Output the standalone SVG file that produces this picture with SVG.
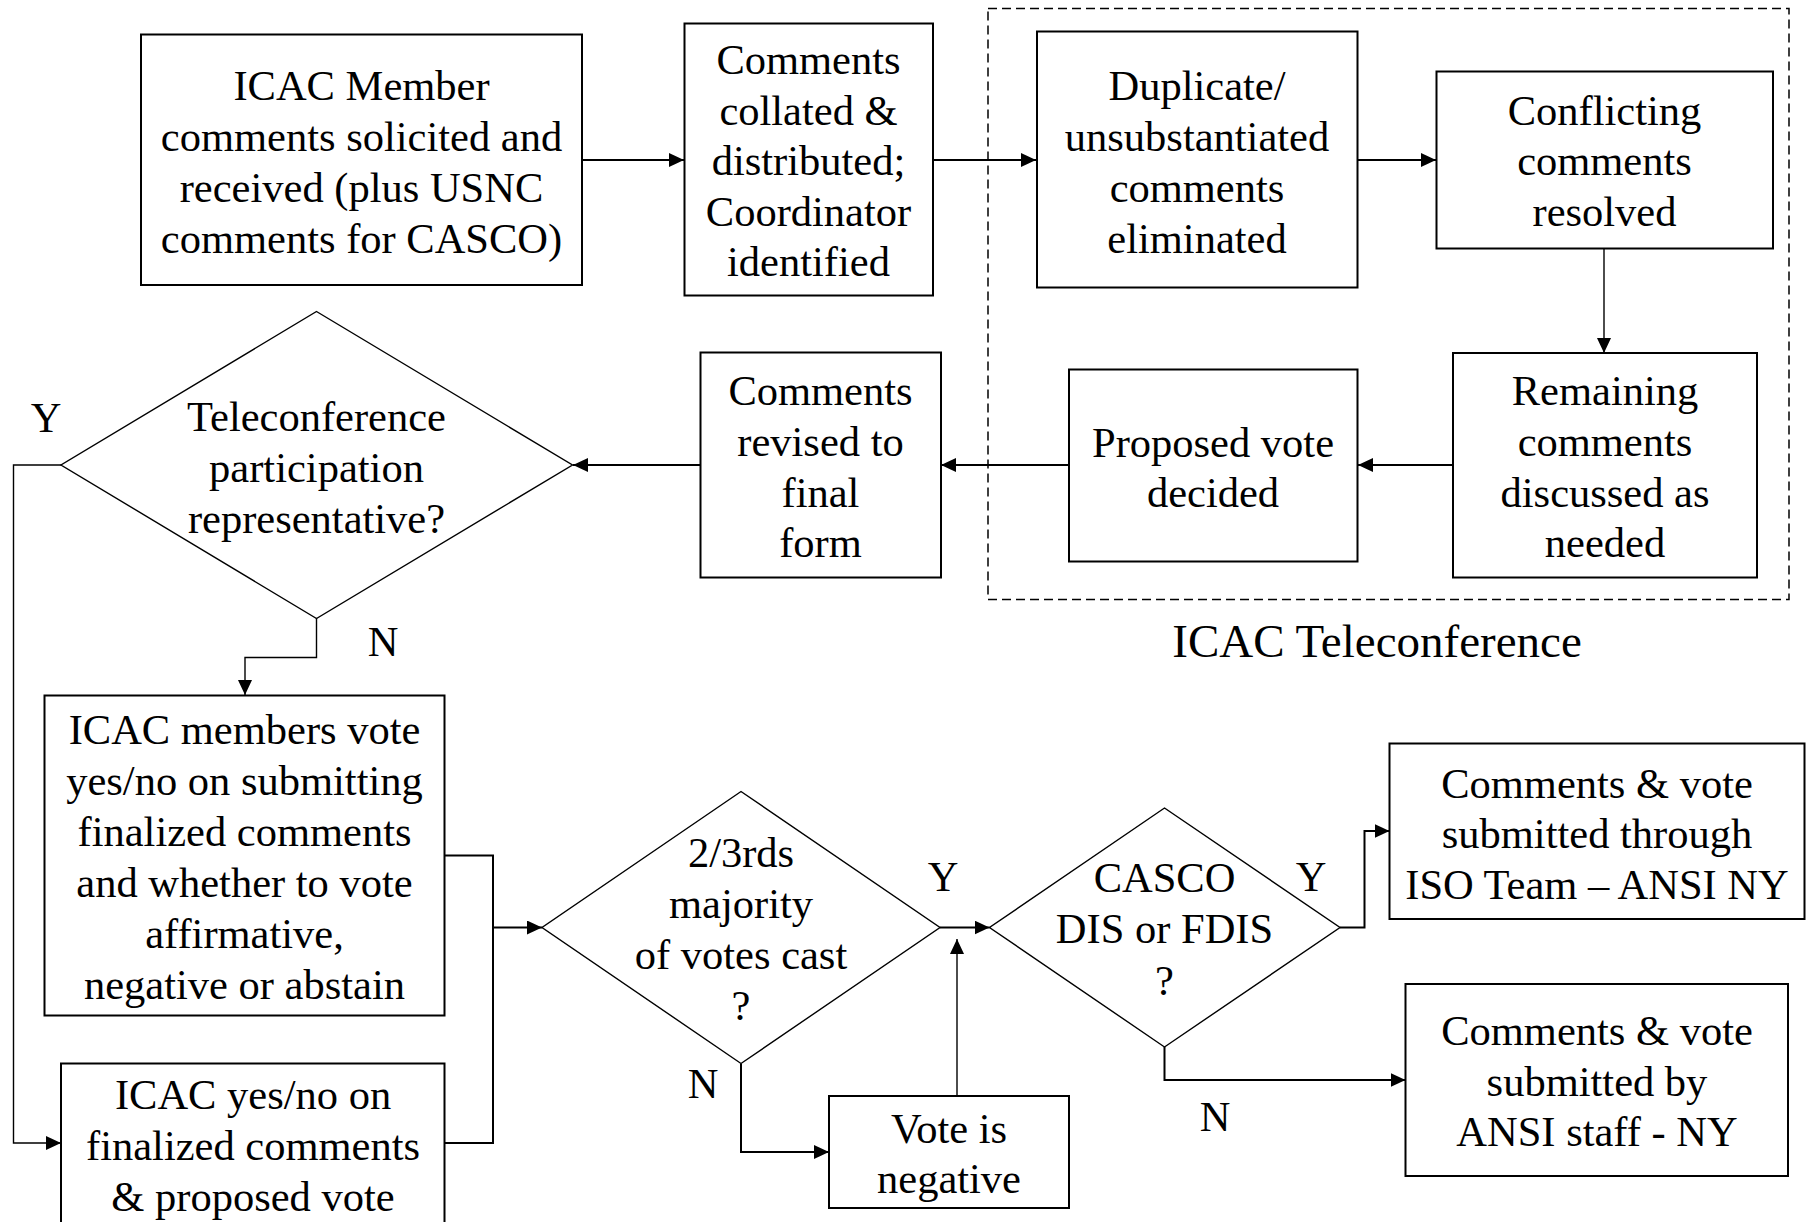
<svg xmlns="http://www.w3.org/2000/svg" width="1808" height="1222" viewBox="0 0 1808 1222">
<style>
.box{fill:#fff;stroke:#000;stroke-width:2}
.dia{fill:#fff;stroke:#000;stroke-width:1.4}
.t{font-family:"Liberation Serif","Times New Roman",serif;font-size:42.5px;fill:#000;text-anchor:middle}
.big{font-size:47px}
.c{fill:none;stroke:#000;stroke-width:2}
.ct{fill:none;stroke:#000;stroke-width:1.4}
.grp{fill:none;stroke:#000;stroke-width:1.5;stroke-dasharray:9 5}
</style>
<defs>
<marker id="ah" markerUnits="userSpaceOnUse" markerWidth="16" markerHeight="14" refX="15" refY="7" orient="auto">
<path d="M0,0 L15,7 L0,14 z" fill="#000"/>
</marker>
</defs>
<rect width="1808" height="1222" fill="#fff"/>

<g id="teleconference-group">
<rect class="grp" x="988" y="8.5" width="801" height="591"/>
<text class="t big" x="1377" y="657">ICAC Teleconference</text>
</g>

<g id="connectors">
<path class="c" d="M582,160 H684" marker-end="url(#ah)"/>
<path class="c" d="M933,160 H1036" marker-end="url(#ah)"/>
<path class="c" d="M1357,160 H1436" marker-end="url(#ah)"/>
<path class="ct" d="M1604,248 V353" marker-end="url(#ah)"/>
<path class="c" d="M1453,465 H1358" marker-end="url(#ah)"/>
<path class="c" d="M1069,465 H941" marker-end="url(#ah)"/>
<path class="c" d="M700,465 H573" marker-end="url(#ah)"/>
<path class="ct" d="M61,465 H13.5 V1143 H61" marker-end="url(#ah)"/>
<path class="ct" d="M316.5,618 V657.5 H245 V695" marker-end="url(#ah)"/>
<path class="c" d="M444.5,855.5 H493 V1143 H444.5"/>
<path class="c" d="M493,927.5 H542" marker-end="url(#ah)"/>
<path class="c" d="M940,927.5 H989.5" marker-end="url(#ah)"/>
<path class="c" d="M741,1063.5 V1152 H829" marker-end="url(#ah)"/>
<path class="ct" d="M957,1096 V939" marker-end="url(#ah)"/>
<path class="c" d="M1340,927.5 H1364.5 V831 H1389.5" marker-end="url(#ah)"/>
<path class="c" d="M1164.5,1047 V1080 H1405.5" marker-end="url(#ah)"/>
</g>

<g id="labels">
<text class="t" x="46" y="432">Y</text>
<text class="t" x="383" y="656">N</text>
<text class="t" x="943" y="891">Y</text>
<text class="t" x="1311" y="891">Y</text>
<text class="t" x="703" y="1098">N</text>
<text class="t" x="1215" y="1131">N</text>
</g>

<g id="n-solicit">
<rect class="box" x="141" y="34.5" width="441" height="250.5"/>
<text class="t" x="361.5" y="99.5">ICAC Member</text>
<text class="t" x="361.5" y="150.5">comments solicited and</text>
<text class="t" x="361.5" y="201.5">received (plus USNC</text>
<text class="t" x="361.5" y="252.5">comments for CASCO)</text>
</g>

<g id="n-collate">
<rect class="box" x="684.5" y="23.5" width="248.5" height="272"/>
<text class="t" x="808.5" y="74">Comments</text>
<text class="t" x="808.5" y="124.5">collated &amp;</text>
<text class="t" x="808.5" y="175">distributed;</text>
<text class="t" x="808.5" y="225.5">Coordinator</text>
<text class="t" x="808.5" y="276">identified</text>
</g>

<g id="n-duplicate">
<rect class="box" x="1037" y="31.5" width="320.5" height="256"/>
<text class="t" x="1197" y="99.5">Duplicate/</text>
<text class="t" x="1197" y="150.5">unsubstantiated</text>
<text class="t" x="1197" y="201.5">comments</text>
<text class="t" x="1197" y="252.5">eliminated</text>
</g>

<g id="n-conflict">
<rect class="box" x="1436.5" y="71.5" width="336.5" height="177"/>
<text class="t" x="1604.5" y="124.5">Conflicting</text>
<text class="t" x="1604.5" y="175">comments</text>
<text class="t" x="1604.5" y="225.5">resolved</text>
</g>

<g id="n-remaining">
<rect class="box" x="1453" y="353" width="304" height="224.5"/>
<text class="t" x="1605" y="405">Remaining</text>
<text class="t" x="1605" y="456">comments</text>
<text class="t" x="1605" y="506.5">discussed as</text>
<text class="t" x="1605" y="557">needed</text>
</g>

<g id="n-proposed">
<rect class="box" x="1069" y="369.5" width="288.5" height="192"/>
<text class="t" x="1213" y="456.5">Proposed vote</text>
<text class="t" x="1213" y="507">decided</text>
</g>

<g id="n-revised">
<rect class="box" x="700.5" y="352.5" width="240.5" height="225"/>
<text class="t" x="820.5" y="405">Comments</text>
<text class="t" x="820.5" y="456">revised to</text>
<text class="t" x="820.5" y="506.5">final</text>
<text class="t" x="820.5" y="557">form</text>
</g>

<g id="n-telecon-decision">
<polygon class="dia" points="316.5,311.5 572.5,465 316.5,618.5 61,465"/>
<text class="t" x="316.5" y="431">Teleconference</text>
<text class="t" x="316.5" y="482">participation</text>
<text class="t" x="316.5" y="533">representative?</text>
</g>

<g id="n-members-vote">
<rect class="box" x="44.5" y="695.5" width="400" height="320"/>
<text class="t" x="244.5" y="744">ICAC members vote</text>
<text class="t" x="244.5" y="795">yes/no on submitting</text>
<text class="t" x="244.5" y="846">finalized comments</text>
<text class="t" x="244.5" y="897">and whether to vote</text>
<text class="t" x="244.5" y="948">affirmative,</text>
<text class="t" x="244.5" y="999">negative or abstain</text>
</g>

<g id="n-icac-yesno">
<rect class="box" x="61" y="1063.5" width="383.5" height="180"/>
<text class="t" x="253" y="1109">ICAC yes/no on</text>
<text class="t" x="253" y="1160">finalized comments</text>
<text class="t" x="253" y="1211">&amp; proposed vote</text>
</g>

<g id="n-majority">
<polygon class="dia" points="741,791.5 940,927.5 741,1063.5 542,927.5"/>
<text class="t" x="741" y="867">2/3rds</text>
<text class="t" x="741" y="918">majority</text>
<text class="t" x="741" y="969">of votes cast</text>
<text class="t" x="741" y="1020">?</text>
</g>

<g id="n-negative">
<rect class="box" x="829" y="1096" width="240" height="112"/>
<text class="t" x="949" y="1142.5">Vote is</text>
<text class="t" x="949" y="1193">negative</text>
</g>

<g id="n-casco">
<polygon class="dia" points="1164.5,808 1340,927.5 1164.5,1047 989.5,927.5"/>
<text class="t" x="1164.5" y="891.5">CASCO</text>
<text class="t" x="1164.5" y="943">DIS or FDIS</text>
<text class="t" x="1164.5" y="994.5">?</text>
</g>

<g id="n-iso-team">
<rect class="box" x="1389.5" y="743.5" width="415" height="175.5"/>
<text class="t" x="1597" y="797.5">Comments &amp; vote</text>
<text class="t" x="1597" y="848">submitted through</text>
<text class="t" x="1597" y="898.5">ISO Team – ANSI NY</text>
</g>

<g id="n-ansi-staff">
<rect class="box" x="1405.5" y="984" width="382.5" height="192"/>
<text class="t" x="1597" y="1045">Comments &amp; vote</text>
<text class="t" x="1597" y="1095.5">submitted by</text>
<text class="t" x="1597" y="1146">ANSI staff - NY</text>
</g>
</svg>
